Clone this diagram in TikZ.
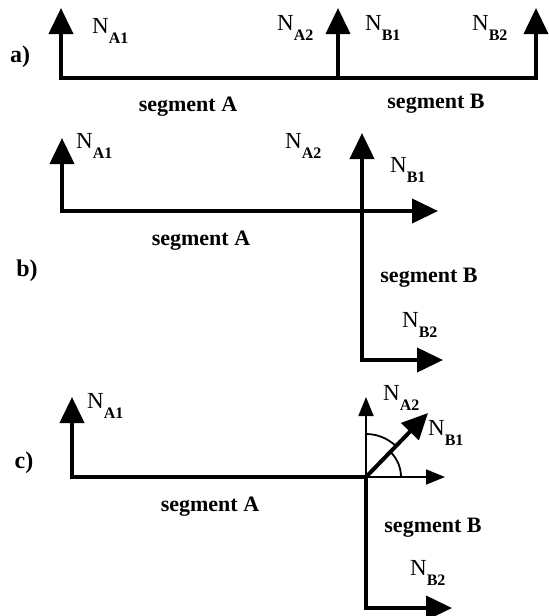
\documentclass[tikz,border=0pt]{standalone}
\usepackage{fontspec}
\setmainfont{Liberation Serif}
\usetikzlibrary{arrows.meta,calc}
\newcommand{\Nsub}[1]{N\raisebox{-10pt}{\fontsize{16}{16}\selectfont\bfseries #1}}
\tikzset{
  bar/.style={line width=4pt, line join=miter},
  force/.style={bar, -{Triangle[length=26pt,width=24pt]}},
  forces/.style={bar, {Triangle[length=26pt,width=24pt]}-{Triangle[length=26pt,width=24pt]}},
  axis/.style={line width=1.8pt, -{Triangle[length=19pt,width=15pt]}},
  angle/.style={line width=1.8pt},
  nlab/.style={anchor=north west, inner sep=0pt, font=\fontsize{23}{23}\selectfont},
  seglab/.style={anchor=base, inner sep=0pt, font=\fontsize{22}{22}\selectfont\bfseries},
  panel/.style={inner sep=0pt, font=\fontsize{24}{24}\selectfont\bfseries},
}
\begin{document}
\begin{tikzpicture}[x=1pt, y=1pt]
  \useasboundingbox (0,0) rectangle (549,-616);
  % a) two segments in line
  \coordinate (aA1) at (61,-78);
  \coordinate (aJ) at (338,-78);
  \coordinate (aB2) at (536,-78);
  \coordinate (aA1t) at (61,-8);
  \coordinate (aJt) at (338,-8);
  \coordinate (aB2t) at (536,-8);
  \draw[forces] (aA1t) -- (aA1) -- (aB2) -- (aB2t);
  \draw[force] (aJ) -- (aJt);
  \node[panel] (pa) at (20,-57) {a)};
  \node[nlab] (aNA1) at (92,-18) {\Nsub{A1}};
  \node[nlab] (aNA2) at (277,-15) {\Nsub{A2}};
  \node[nlab] (aNB1) at (365,-15) {\Nsub{B1}};
  \node[nlab] (aNB2) at (472,-15) {\Nsub{B2}};
  \node[seglab] (aSA) at (188,-111) {segment A};
  \node[seglab] (aSB) at (436,-108) {segment B};
  % b) segment B at a right angle
  \coordinate (bA1) at (62,-211);
  \coordinate (bA1t) at (62,-138);
  \coordinate (bXt) at (438,-211);
  \coordinate (bJt) at (362,-133);
  \coordinate (bC) at (362,-360);
  \coordinate (bB2t) at (443,-360);
  \draw[forces] (bA1t) -- (bA1) -- (bXt);
  \draw[forces] (bJt) -- (bC) -- (bB2t);
  \node[panel] (pb) at (27,-271) {b)};
  \node[nlab] (bNA1) at (76,-133) {\Nsub{A1}};
  \node[nlab] (bNA2) at (285,-133) {\Nsub{A2}};
  \node[nlab] (bNB1) at (390,-157) {\Nsub{B1}};
  \node[nlab] (bNB2) at (402,-312) {\Nsub{B2}};
  \node[seglab] (bSA) at (201,-245) {segment A};
  \node[seglab] (bSB) at (429,-282) {segment B};
  % c) resulting force at the joint
  \coordinate (cA1) at (72,-477);
  \coordinate (cA1t) at (72,-397);
  \coordinate (cJ) at (366,-477);
  \coordinate (cXt) at (445,-477);
  \coordinate (cYt) at (366,-397);
  \coordinate (cDt) at (428,-413);
  \coordinate (cC) at (366,-608);
  \coordinate (cB2t) at (452,-608);
  \draw[force] (cJ) -- (cA1) -- (cA1t);
  \draw[force] (cJ) -- (cC) -- (cB2t);
  \draw[axis] (cJ) -- (cXt);
  \draw[axis] (cJ) -- (cYt);
  \draw[force] (cJ) -- (cDt);
  \draw[angle] ($(cJ)+(0,43)$) arc[start angle=90, end angle=45, radius=43];
  \draw[angle] ($(cJ)+(45:35)$) arc[start angle=45, end angle=0, radius=35];
  \node[panel] (pc) at (24,-463) {c)};
  \node[nlab] (cNA1) at (87,-393) {\Nsub{A1}};
  \node[nlab] (cNA2) at (383,-385) {\Nsub{A2}};
  \node[nlab] (cNB1) at (428,-420) {\Nsub{B1}};
  \node[nlab] (cNB2) at (410,-560) {\Nsub{B2}};
  \node[seglab] (cSA) at (210,-511) {segment A};
  \node[seglab] (cSB) at (433,-532) {segment B};
\end{tikzpicture}
\end{document}
